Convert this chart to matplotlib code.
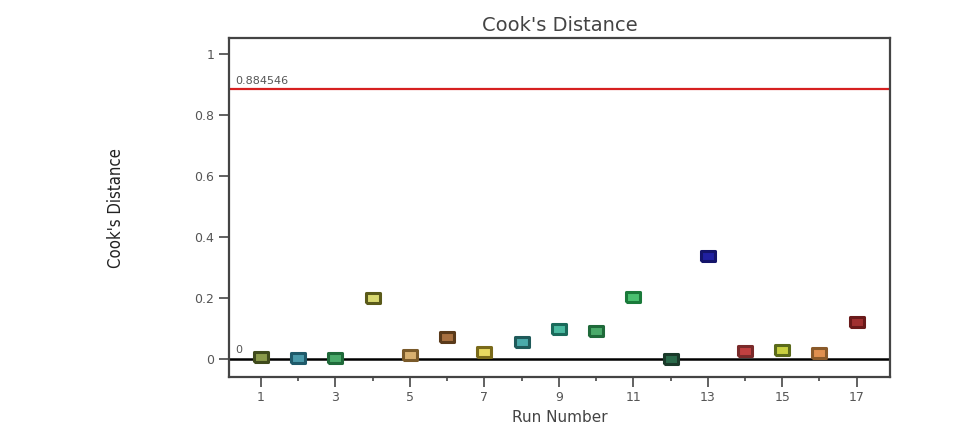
import numpy as np
import matplotlib.pyplot as plt

# Datos
runs = list(range(1, 18))
cooks = [0.006, 0.005, 0.005, 0.200, 0.012, 0.072, 0.022, 0.056, 0.100,
         0.092, 0.203, 0.000, 0.338, 0.026, 0.030, 0.020, 0.121]
edge_colors = ['#3f4a1c', '#1f5a6a', '#1f6a3a', '#5a5a1a', '#7a5a2a', '#5a3a1a',
               '#7a6a1a', '#1f5a5a', '#1a6a5a', '#1f6a3a', '#1a7a3a', '#1a3a2a',
               '#14146a', '#7a2a2a', '#5a6a1a', '#8a5a2a', '#6a1a1a']
face_colors = ['#8a9a4a', '#4a9aaa', '#4aaa6a', '#d8d870', '#d8b070', '#a87040',
               '#e8d860', '#4aaaaa', '#4abaa0', '#4aaa6a', '#4ac070', '#2a6a4a',
               '#2020a0', '#c04040', '#c8d040', '#e09050', '#a03030']
limite = 0.884546

fig = plt.figure(figsize=(9.62, 4.28), dpi=100)
ax = fig.add_axes([0.238, 0.119, 0.687, 0.792])

gris = '#555555'

# Lineas de referencia
ax.axhline(limite, color='#d62020', lw=1.6, zorder=2)
ax.axhline(0, color='black', lw=1.8, zorder=2)
ax.text(0.3, limite + 0.012, '0.884546', color=gris, fontsize=8, va='bottom')
ax.text(0.3, 0.012, '0', color=gris, fontsize=8, va='bottom')

# Marcador rectangular (mas ancho que alto)
rect = [(-1.5, -1), (1.5, -1), (1.5, 1), (-1.5, 1), (-1.5, -1)]

# Puntos
for x, y, ec, fc in zip(runs, cooks, edge_colors, face_colors):
    ax.plot(x, y, marker=rect, markersize=10, markerfacecolor=fc,
            markeredgecolor=ec, markeredgewidth=2.2, linestyle='none', zorder=3)

ax.set_xlim(0.14, 17.89)
ax.set_ylim(-0.059, 1.052)

ax.set_xticks([r for r in runs if r % 2 == 1])
ax.set_xticks([r for r in runs if r % 2 == 0], minor=True)
ax.set_yticks([0, 0.2, 0.4, 0.6, 0.8, 1])
ax.set_yticklabels(['0', '0.2', '0.4', '0.6', '0.8', '1'])
ax.tick_params(axis='both', colors=gris, labelcolor=gris, labelsize=9,
               length=7, width=1.3, direction='out')
ax.tick_params(axis='x', which='minor', colors=gris, length=3, width=1.3)
ax.tick_params(axis='x', which='major', pad=3)

for s in ax.spines.values():
    s.set_color('#444444')
    s.set_linewidth(1.6)

ax.set_title("Cook's Distance", fontsize=14, color='#444444', pad=5)
ax.set_xlabel('Run Number', fontsize=11, color='#444444', labelpad=4)
ax.set_ylabel("Cook's Distance", fontsize=12, color='#222222', labelpad=50,
              family='DejaVu Sans', fontstretch='condensed')

fig.savefig('out.png', dpi=100)
